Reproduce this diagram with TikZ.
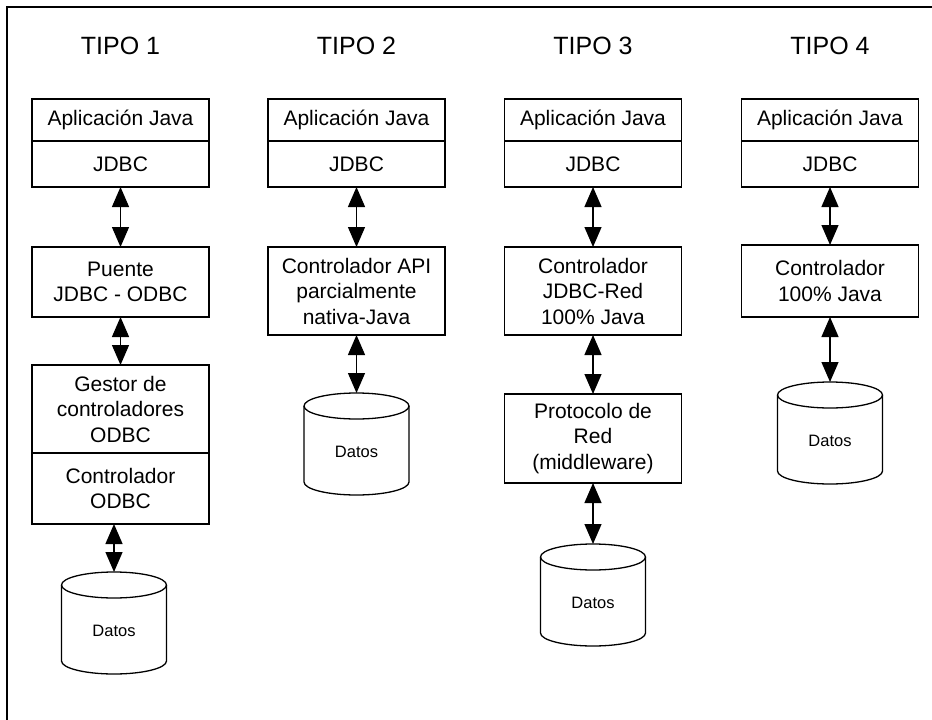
\documentclass[tikz,border=0pt]{standalone}
\usepackage{fontspec}
\setmainfont{Liberation Sans}
\usetikzlibrary{arrows.meta,positioning}
\begin{document}
\begin{tikzpicture}[x=1pt,y=-1pt]
  \tikzset{
    layer/.style={draw=black,line width=1.3pt,outer sep=0pt,inner sep=0pt,
      minimum width=177pt,align=center,font=\fontsize{21}{25.5}\selectfont},
    datos/.style={outer sep=0pt,inner sep=0pt,minimum width=105pt,minimum height=102pt,
      text height=26pt,text depth=0pt,font=\fontsize{16.5}{19}\selectfont},
    cyl/.style={draw=black,line width=1.3pt},
    tipo/.style={font=\fontsize{25}{30}\selectfont},
    link/.style={{Triangle[length=20pt,width=17pt]}-{Triangle[length=20pt,width=17pt]},
      line width=1.3pt}
  }
  \useasboundingbox (0,0) rectangle (932,720);
  \draw[line width=2pt] (932,7) -| (7,720);

  % cabecera de cada tipo
  \foreach \i/\x in {1/120.5,2/356.5,3/593,4/830}{
    \node[tipo] (tipo\i) at (\x,46) {TIPO \i};
    \node[layer,minimum height=42pt,anchor=north] (app\i) at (\x,99) {Aplicación Java};
    \node[layer,minimum height=46pt,below=0pt of app\i] (jdbc\i) {JDBC};
  }

  % tipo 1
  \node[layer,minimum height=70pt,anchor=north] (puente) at (120.5,247) {Puente\\JDBC - ODBC};
  \node[layer,minimum height=88pt,anchor=north] (gestor) at (120.5,365) {Gestor de\\controladores\\ODBC};
  \node[layer,minimum height=71pt,below=0pt of gestor] (odbc) {Controlador\\ODBC};
  \node[datos,anchor=north] (datos1) at (114,572) {Datos};

  % tipo 2
  \node[layer,minimum height=88pt,anchor=north] (api) at (356.5,247) {Controlador API\\parcialmente\\nativa-Java};
  \node[datos,anchor=north] (datos2) at (356.5,393) {Datos};

  % tipo 3
  \node[layer,minimum height=88pt,anchor=north] (red) at (593,247) {Controlador\\JDBC-Red\\100\% Java};
  \node[layer,minimum height=89pt,anchor=north] (protocolo) at (593,394) {Protocolo de\\Red\\(middleware)};
  \node[datos,anchor=north] (datos3) at (593,544) {Datos};

  % tipo 4
  \node[layer,minimum height=72pt,anchor=north] (java) at (830,245) {Controlador\\100\% Java};
  \node[datos,anchor=north] (datos4) at (830,382) {Datos};

  % cilindros
  \foreach \n in {datos1,datos2,datos3,datos4}{
    \draw[cyl] (\n.north west) ++(0,13) -- ++(0,76)
      arc[start angle=180,end angle=0,x radius=52.5,y radius=13] -- ++(0,-76);
    \draw[cyl] (\n.north) ++(0,13) ellipse[x radius=52.5,y radius=13];
  }

  \foreach \a/\b in {jdbc1/puente,puente/gestor,jdbc2/api,api/datos2,
                     jdbc3/red,red/protocolo,protocolo/datos3,jdbc4/java,java/datos4}{
    \draw[link] (\a) -- (\b);
  }
  \draw[link] (datos1.north |- odbc.south) -- (datos1.north);
\end{tikzpicture}
\end{document}
